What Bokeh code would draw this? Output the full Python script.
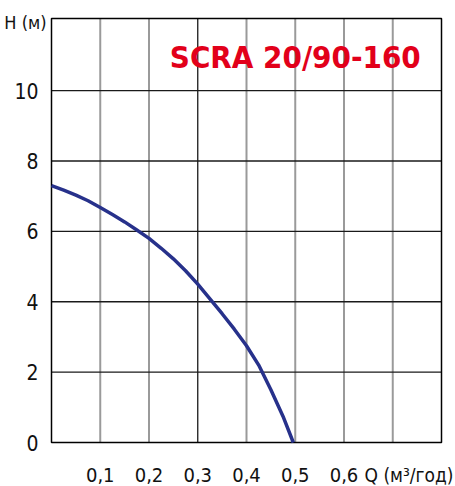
from bokeh.plotting import figure
from bokeh.models import Range1d
from bokeh.core.properties import value
from bokeh.embed import file_html
from bokeh.resources import INLINE

# ---- data ----
flow_q = [0, 0.025, 0.05, 0.075, 0.1, 0.125, 0.15, 0.175, 0.2, 0.225, 0.25, 0.275,
          0.3, 0.325, 0.35, 0.375, 0.4, 0.425, 0.45, 0.475, 0.496]
head_h = [7.3, 7.17, 7.03, 6.87, 6.68, 6.48, 6.27, 6.04, 5.8, 5.52, 5.22, 4.88,
          4.5, 4.08, 3.66, 3.22, 2.75, 2.2, 1.5, 0.74, 0.0]

q_ticks = [0.1, 0.2, 0.3, 0.4, 0.5, 0.6]
q_tick_labels = ["0,1", "0,2", "0,3", "0,4", "0,5", "0,6"]
q_grid_gray = [0.1, 0.2, 0.4, 0.5, 0.6, 0.7]
q_grid_dark = [0.3]
h_ticks = [0, 2, 4, 6, 8, 10]
h_tick_labels = ["0", "2", "4", "6", "8", "10"]
h_grid = [2, 4, 6, 8, 10]

q_min, q_max = 0.0, 0.8
h_min, h_max = 0.0, 12.05

title_text = "SCRA 20/90-160"
x_title = "Q (м³/год)"
y_title = "H (м)"

FONT = "DejaVu Sans Condensed, Roboto"

# ---- layout (pixels) ----
W, H = 455, 486
left_px, right_px, top_px, bottom_px = 51, 441, 18, 442
q_per_px = (q_max - q_min) / (right_px - left_px)
h_per_px = (h_max - h_min) / (bottom_px - top_px)


def h_at(py):
    return h_min + (bottom_px - py) * h_per_px


def q_at(px):
    return q_min + (px - left_px) * q_per_px


p = figure(width=W, height=H, output_backend="svg", toolbar_location=None,
           x_range=Range1d(q_at(0), q_at(W)),
           y_range=Range1d(h_at(H), h_at(0)),
           x_axis_location=None, y_axis_location=None,
           min_border=0)
p.outline_line_color = None
p.xgrid.visible = False
p.ygrid.visible = False
p.background_fill_color = "white"
p.border_fill_color = "white"

# grid lines
p.segment(x0=q_grid_gray, x1=q_grid_gray,
          y0=[h_min] * len(q_grid_gray), y1=[h_max] * len(q_grid_gray),
          line_color="#9a9a9a", line_width=2)
p.segment(x0=q_grid_dark, x1=q_grid_dark,
          y0=[h_min] * len(q_grid_dark), y1=[h_max] * len(q_grid_dark),
          line_color="#1a1a1a", line_width=1.3)
p.segment(x0=[q_min] * len(h_grid), x1=[q_max] * len(h_grid),
          y0=h_grid, y1=h_grid, line_color="#1a1a1a", line_width=1.3)

# plot box
p.quad(left=[q_min], right=[q_max], bottom=[h_min], top=[h_max],
       fill_color=None, line_color="black", line_width=1.5)

# curve
p.line(flow_q, head_h, line_color="#27318b", line_width=3.5, line_join="round")

# y tick labels
p.text(x=[q_at(38)] * len(h_ticks), y=h_ticks, text=h_tick_labels,
       text_font=value(FONT), text_font_size="21px", text_color="#111111",
       text_align="right", text_baseline="middle")
p.text(x=[q_at(46)], y=[h_at(22)], text=[y_title],
       text_font=value(FONT), text_font_size="18px", text_color="#111111",
       text_align="right", text_baseline="middle")

# x tick labels
p.text(x=q_ticks, y=[h_at(474)] * len(q_ticks), text=q_tick_labels,
       text_font=value(FONT), text_font_size="20px", text_color="#111111",
       text_align="center", text_baseline="middle")
p.text(x=[q_at(453)], y=[h_at(474)], text=[x_title],
       text_font=value(FONT), text_font_size="19px", text_color="#111111",
       text_align="right", text_baseline="middle")

# title
p.text(x=[0.5], y=[h_at(56)], text=[title_text],
       text_font=value(FONT), text_font_style="bold", text_font_size="31px",
       text_color="#e2001a", text_align="center", text_baseline="middle")

open("out.html", "w").write(file_html(p, INLINE))
